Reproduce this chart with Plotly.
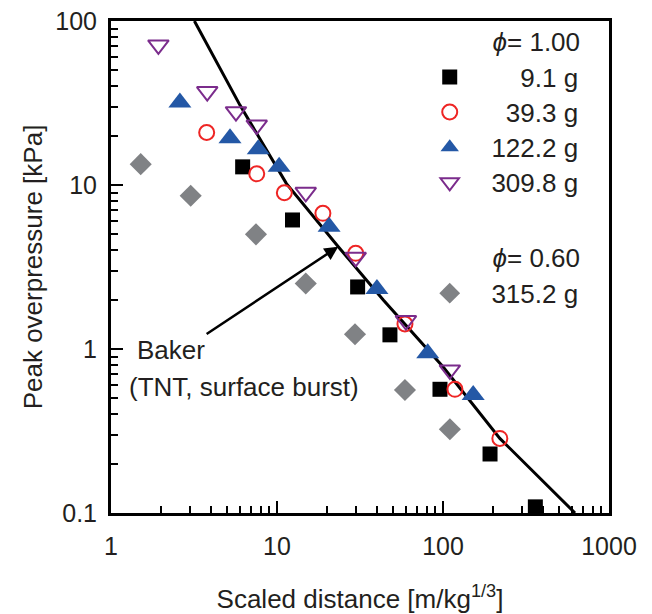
import plotly.graph_objects as go

# ---- data ----
sq_x = [6.21, 12.4, 30.6, 47.9, 95.9, 192, 360]
sq_y = [12.9, 6.12, 2.39, 1.22, 0.568, 0.229, 0.109]

ci_x = [3.77, 7.55, 11.07, 18.9, 29.8, 59.0, 118, 220]
ci_y = [20.9, 11.7, 8.97, 6.72, 3.83, 1.42, 0.568, 0.285]

tu_x = [2.60, 5.21, 7.71, 10.3, 20.6, 40.0, 80.9, 152]
tu_y = [31.8, 19.3, 16.5, 12.9, 5.57, 2.32, 0.942, 0.525]

td_x = [1.93, 3.80, 5.66, 7.55, 14.9, 29.8, 59.8, 110]
td_y = [71.5, 37.1, 28.0, 23.2, 9.03, 3.62, 1.49, 0.745]

di_x = [1.51, 3.02, 7.47, 14.9, 29.5, 59.0, 110]
di_y = [13.4, 8.6, 5.0, 2.51, 1.23, 0.562, 0.324]

baker_x = [3.18, 5.98, 11.4, 23.4, 43.7, 100, 220, 624]
baker_y = [100, 30.7, 10.2, 4.2, 1.99, 0.78, 0.285, 0.1]

x_tickvals = [1, 10, 100, 1000]
x_ticktext = ["1", "10", "100", "1000"]
y_tickvals = [0.1, 1, 10, 100]
y_ticktext = ["0.1", "1", "10", "100"]

FS = "\u2007"  # figure space (digit width) for right-aligning legend labels
NB = "\u00a0"
TXT = "#231f20"
FONT = "Liberation Sans, Arial, sans-serif"


def lab(s):
    return '<span style="font-size:26px">' + FS + NB + s + '</span>'


fig = go.Figure()

fig.add_trace(go.Scatter(x=baker_x, y=baker_y, mode="lines",
                         line=dict(color="black", width=3), showlegend=False,
                         hoverinfo="skip"))

gfont = dict(size=26, color=TXT, family=FONT)
g1 = FS * 4 + "<i>\u03d5</i>= 1.00"
g2 = FS * 4 + "<i>\u03d5</i>= 0.60"

fig.add_trace(go.Scatter(x=sq_x, y=sq_y, mode="markers", name=lab(FS * 2 + "9.1 g"),
                         legendgroup="a", legendgrouptitle=dict(text=g1, font=gfont),
                         marker=dict(symbol="square", size=15, color="black")))
fig.add_trace(go.Scatter(x=ci_x, y=ci_y, mode="markers", name=lab(FS + "39.3 g"),
                         legendgroup="a",
                         marker=dict(symbol="circle-open", size=15, color="#ee2524",
                                     line=dict(width=2, color="#ee2524"))))
fig.add_trace(go.Scatter(x=tu_x, y=tu_y, mode="markers", name=lab("122.2 g"),
                         legendgroup="a",
                         marker=dict(symbol="triangle-up", size=20, color="#2458a6")))
fig.add_trace(go.Scatter(x=td_x, y=td_y, mode="markers", name=lab("309.8 g"),
                         legendgroup="a",
                         marker=dict(symbol="triangle-down-open", size=18, color="#7b2c8c",
                                     line=dict(width=2, color="#7b2c8c"))))
fig.add_trace(go.Scatter(x=di_x, y=di_y, mode="markers", name=lab("315.2 g"),
                         legendgroup="b", legendgrouptitle=dict(text=g2, font=gfont),
                         marker=dict(symbol="diamond", size=17, color="#808285")))

minor_vals = [m * 10 ** k for k in range(-1, 3) for m in range(2, 10)]

axis_common = dict(type="log", showline=True, linewidth=3, linecolor="black",
                   mirror=True, ticks="inside", ticklen=12, tickwidth=2,
                   tickcolor="black", showgrid=False, zeroline=False,
                   tickfont=dict(size=25, color=TXT, family=FONT))

fig.update_xaxes(range=[0, 3], tickvals=x_tickvals, ticktext=x_ticktext,
                 ticklabelstandoff=9,
                 minor=dict(ticks="inside", ticklen=7, tickwidth=2, tickcolor="black",
                            tickvals=[v for v in minor_vals if 1 < v < 1000]),
                 title=dict(text="Scaled distance [m/kg<sup>1/3</sup>]",
                            font=dict(size=26, color=TXT, family=FONT), standoff=33),
                 **axis_common)
fig.update_yaxes(range=[-1, 2], tickvals=y_tickvals, ticktext=y_ticktext,
                 ticklabelstandoff=6,
                 minor=dict(ticks="inside", ticklen=7, tickwidth=2, tickcolor="black",
                            tickvals=[v for v in minor_vals if 0.1 < v < 100]),
                 title=dict(text="Peak overpressure [kPa]",
                            font=dict(size=26, color=TXT, family=FONT), standoff=6),
                 **axis_common)

# arrow + label
fig.add_annotation(x=1.369, y=0.624, xref="x", yref="y",
                   ax=0.546, ay=0.0713, axref="x", ayref="y",
                   showarrow=True, arrowhead=2, arrowsize=1.1, arrowwidth=2.5,
                   arrowcolor="black", text=" ")
fig.add_annotation(x=0.1446, y=-0.006, xref="x", yref="y", xanchor="left",
                   yanchor="middle", showarrow=False, text="Baker",
                   font=dict(size=26, color=TXT, family=FONT))
fig.add_annotation(x=0.0964, y=-0.232, xref="x", yref="y", xanchor="left",
                   yanchor="middle", showarrow=False, text="(TNT, surface burst)",
                   font=dict(size=26, color=TXT, family=FONT))

fig.update_layout(
    width=652, height=614,
    margin=dict(l=111, r=43, t=21, b=101, autoexpand=False),
    paper_bgcolor="white", plot_bgcolor="white",
    font=dict(family=FONT, color=TXT, size=26),
    legend=dict(x=0.64, y=1.007, xanchor="left", yanchor="top",
                bgcolor="rgba(0,0,0,0)", font=dict(size=24.7, color=TXT, family=FONT),
                tracegroupgap=39, itemclick=False),
)

fig.write_html("out.html")
